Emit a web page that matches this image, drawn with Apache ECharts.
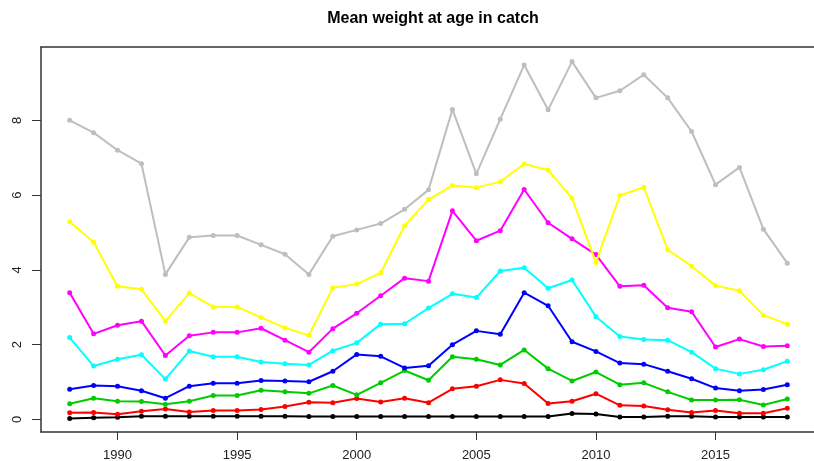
<!DOCTYPE html>
<html>
<head>
<meta charset="utf-8">
<script src="https://cdn.jsdelivr.net/npm/echarts@6/dist/echarts.min.js"></script>
<style>
  html, body { margin: 0; padding: 0; background: #fff; }
  #chart { width: 814px; height: 461px; }
</style>
</head>
<body>
<div id="chart"></div>
<script>
// years 1988..2018
var years = [];
for (var y = 1988; y <= 2018; y++) years.push(y);

var xTicks = [1990, 1995, 2000, 2005, 2010, 2015];
var yTicks = [0, 2, 4, 6, 8];

// mean weight per age
var age1 = [0.03, 0.05, 0.06, 0.09, 0.09, 0.09, 0.09, 0.09, 0.09, 0.09, 0.08, 0.08, 0.08, 0.08, 0.08, 0.08, 0.08, 0.08, 0.08, 0.08, 0.08, 0.16, 0.15, 0.07, 0.07, 0.09, 0.09, 0.07, 0.07, 0.07, 0.07];
var age2 = [0.18, 0.19, 0.14, 0.22, 0.28, 0.20, 0.24, 0.24, 0.27, 0.35, 0.46, 0.45, 0.56, 0.47, 0.57, 0.45, 0.82, 0.89, 1.06, 0.96, 0.43, 0.49, 0.69, 0.38, 0.36, 0.26, 0.19, 0.24, 0.17, 0.17, 0.30];
var age3 = [0.42, 0.57, 0.49, 0.48, 0.41, 0.49, 0.64, 0.64, 0.78, 0.74, 0.70, 0.91, 0.66, 0.98, 1.31, 1.05, 1.68, 1.61, 1.46, 1.86, 1.36, 1.03, 1.27, 0.93, 0.98, 0.74, 0.52, 0.52, 0.53, 0.39, 0.55];
var age4 = [0.81, 0.91, 0.89, 0.77, 0.57, 0.89, 0.97, 0.97, 1.04, 1.03, 1.01, 1.29, 1.74, 1.69, 1.38, 1.44, 2.00, 2.37, 2.28, 3.39, 3.04, 2.08, 1.82, 1.51, 1.48, 1.29, 1.09, 0.84, 0.77, 0.80, 0.93];
var age5 = [2.19, 1.43, 1.61, 1.73, 1.08, 1.83, 1.68, 1.68, 1.54, 1.49, 1.46, 1.84, 2.05, 2.55, 2.56, 2.98, 3.36, 3.26, 3.97, 4.06, 3.51, 3.73, 2.75, 2.22, 2.14, 2.12, 1.80, 1.36, 1.22, 1.33, 1.56];
var age6 = [3.39, 2.29, 2.52, 2.63, 1.71, 2.24, 2.33, 2.33, 2.44, 2.12, 1.80, 2.43, 2.84, 3.31, 3.78, 3.70, 5.58, 4.78, 5.05, 6.15, 5.26, 4.83, 4.41, 3.56, 3.59, 2.99, 2.88, 1.94, 2.15, 1.95, 1.97];
var age7 = [5.29, 4.74, 3.56, 3.48, 2.63, 3.38, 3.01, 3.01, 2.73, 2.45, 2.25, 3.52, 3.62, 3.92, 5.18, 5.88, 6.26, 6.20, 6.36, 6.83, 6.67, 5.92, 4.20, 5.99, 6.21, 4.54, 4.10, 3.58, 3.44, 2.79, 2.55];
var age8 = [8.00, 7.67, 7.20, 6.84, 3.88, 4.87, 4.92, 4.92, 4.67, 4.42, 3.88, 4.90, 5.07, 5.24, 5.62, 6.14, 8.29, 6.57, 8.03, 9.48, 8.28, 9.57, 8.60, 8.79, 9.22, 8.60, 7.70, 6.28, 6.74, 5.09, 4.18];

var allSeries = [age1, age2, age3, age4, age5, age6, age7, age8];
var colors = ['#000000', '#FF0000', '#00CD00', '#0000FF', '#00FFFF', '#FF00FF', '#FFFF00', '#BEBEBE'];

var chart = echarts.init(document.getElementById('chart'));

var series = allSeries.map(function (vals, i) {
    return {
        type: 'line',
        data: vals.map(function (v, j) { return [years[j], v]; }),
        symbol: 'circle',
        symbolSize: 5,
        lineStyle: { color: colors[i], width: 2 },
        itemStyle: { color: colors[i] },
        animation: false,
        z: 2 + i
    };
});

var frame = { show: true, onZero: false, lineStyle: { color: '#333', width: 1.5 } };

chart.setOption({
    backgroundColor: '#fff',
    title: {
        text: 'Mean weight at age in catch',
        left: 428,
        textAlign: 'center',
        top: 6,
        textStyle: { fontFamily: 'Liberation Sans', fontWeight: 'bold', fontSize: 16, color: '#000' }
    },
    grid: {
        left: 41, width: 775, top: 47, bottom: 29,
        outerBoundsMode: 'none'
    },
    xAxis: [{
        type: 'value',
        min: 1986.8,
        max: 2019.2,
        splitLine: { show: false },
        axisLine: frame,
        axisTick: { show: true, length: 8, customValues: xTicks, lineStyle: { color: '#333' } },
        axisLabel: {
            customValues: xTicks, margin: 17,
            fontFamily: 'Liberation Sans', fontSize: 13, color: '#222',
            formatter: function (v) { return String(v); }
        }
    }, {
        // top edge of the box
        type: 'value',
        position: 'top',
        min: 1986.8,
        max: 2019.2,
        splitLine: { show: false },
        axisLine: frame,
        axisTick: { show: false },
        axisLabel: { show: false }
    }],
    yAxis: {
        type: 'value',
        min: -0.334,
        max: 9.96,
        splitLine: { show: false },
        axisLine: frame,
        axisTick: { show: true, length: 9, customValues: yTicks, lineStyle: { color: '#333' } },
        axisLabel: {
            customValues: yTicks, rotate: 90, margin: 17,
            fontFamily: 'Liberation Sans', fontSize: 13, color: '#222'
        }
    },
    series: series
});
</script>
</body>
</html>
